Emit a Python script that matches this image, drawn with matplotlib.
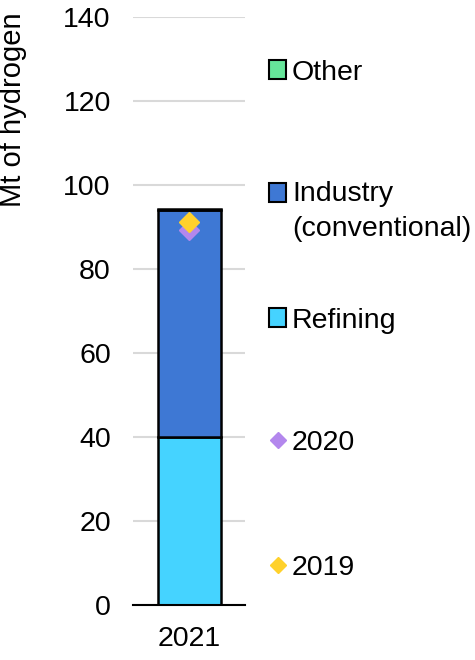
import matplotlib
matplotlib.use("Agg")
import matplotlib.pyplot as plt
from matplotlib.patches import Patch
from matplotlib.lines import Line2D

plt.rcParams['font.family'] = ['Liberation Sans', 'DejaVu Sans']

categories = ["2021"]
refining = [40.0]
industry = [54.0]
other = [0.3]
val_2020 = [89.2]
val_2019 = [91.3]
yticks = [0, 20, 40, 60, 80, 100, 120, 140]

c_ref = "#45D3FF"
c_ind = "#3E78D4"
c_oth = "#66E59A"
c_20 = "#B387ED"
c_19 = "#FFD12B"

FS = 20.5

fig = plt.figure(figsize=(4.75, 6.6), dpi=100)
ax = fig.add_axes([133/475, 55/660, 112/475, 588/660])

x = range(len(categories))
w = 0.5625
ax.bar(x, refining, w, color=c_ref, edgecolor="black", linewidth=1.8, zorder=3)
ax.bar(x, industry, w, bottom=refining, color=c_ind, edgecolor="black", linewidth=1.8, zorder=3)
b2 = [r + i for r, i in zip(refining, industry)]
ax.bar(x, other, w, bottom=b2, color=c_oth, edgecolor="black", linewidth=1.8, zorder=3)
ax.plot(list(x), val_2020, linestyle="none", marker="D", markersize=10.5, color=c_20, zorder=4)
ax.plot(list(x), val_2019, linestyle="none", marker="D", markersize=10.5, color=c_19, zorder=5)

ax.set_xlim(-0.5, 0.5)
ax.set_ylim(0, 140)
ax.set_yticks(yticks)
ax.set_xticks(list(x))
ax.set_xticklabels(categories)
ax.tick_params(axis="both", length=0, labelsize=FS)
ax.tick_params(axis="x", pad=15)
ax.tick_params(axis="y", pad=16)
ax.grid(axis="y", color="#D9D9D9", linewidth=1.5, zorder=0)
for s in ["left", "right", "top"]:
    ax.spines[s].set_visible(False)
ax.spines["bottom"].set_color("black")
ax.spines["bottom"].set_linewidth(1.5)
ax.spines["bottom"].set_zorder(6)

ax.set_ylabel("Mt of hydrogen", fontsize=FS + 0.5)
ax.yaxis.set_label_coords(-0.95, 0.842)

entries = [
    (Patch(facecolor=c_oth, edgecolor="black", linewidth=1.5), "Other", 70),
    (Patch(facecolor=c_ind, edgecolor="black", linewidth=1.5), "Industry\n(conventional)", 193),
    (Patch(facecolor=c_ref, edgecolor="black", linewidth=1.5), "Refining", 318),
    (Line2D([], [], linestyle="none", marker="D", markersize=8.5, color=c_20), "2020", 440),
    (Line2D([], [], linestyle="none", marker="D", markersize=8.5, color=c_19), "2019", 565),
]
for h, lab, ypx in entries:
    nlines = lab.count("\n")
    t = fig.text(292/475, 1 - (ypx + 3)/660, lab, fontsize=FS, va="top" if nlines else "center",
                 ha="left", linespacing=1.45)
    if nlines:
        t.set_y(1 - (ypx - 12)/660)
    fig.legend([h], [""], loc="center", bbox_to_anchor=(277.5/475, 1 - (ypx + 2.5)/660),
               frameon=False, handlelength=0.62, handleheight=0.62, handletextpad=0,
               borderpad=0, borderaxespad=0, fontsize=FS)

fig.savefig("out.png", dpi=100)
